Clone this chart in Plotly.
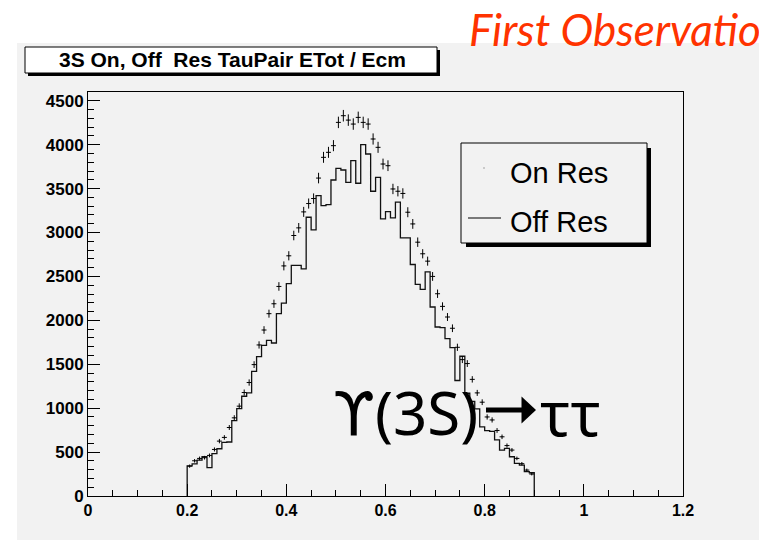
import numpy as np
import plotly.graph_objects as go

# ---------------- data ----------------
bin_start = 0.20
bin_width = 0.01
n_bins = 70

on_res = [340, 401, 428, 436, 462, 530, 625, 667, 780, 890,
          1023, 1178, 1292, 1496, 1720, 1890, 2076, 2189, 2386, 2620,
          2735, 2966, 3053, 3235, 3330, 3387, 3620, 3856, 3913, 3989,
          4254, 4330, 4280, 4235, 4311, 4254, 4235, 4065, 3970, 3780,
          3761, 3496, 3470, 3445, 3231, 3098, 2890, 2758, 2674, 2500,
          2303, 2159, 2038, 1910, 1693, 1553, 1508, 1328, 1174, 1068,
          900, 866, 746, 674, 574, 523, 428, 368, 295, 250]

off_res = [342, 366, 409, 447, 324, 482, 538, 610, 615, 858,
           996, 1136, 1174, 1420, 1587, 1716, 1773, 1742, 2076, 2197,
           2417, 2625, 2625, 2587, 3174, 3030, 3420, 3307, 3318, 3598,
           3731, 3712, 3572, 3818, 3561, 4000, 3894, 3470, 3629, 3155,
           3239, 3167, 3345, 2939, 2939, 2636, 2409, 2352, 2553, 2152,
           1924, 1917, 1792, 1689, 1315, 1591, 1170, 1076, 993, 788,
           745, 735, 640, 523, 542, 447, 371, 352, 277, 265]

x_ticks = [0, 0.2, 0.4, 0.6, 0.8, 1.0, 1.2]
x_tick_text = ["0", "0.2", "0.4", "0.6", "0.8", "1", "1.2"]
y_ticks = [0, 500, 1000, 1500, 2000, 2500, 3000, 3500, 4000, 4500]

title_text = "3S On, Off  Res TauPair ETot / Ecm"
legend_labels = ["On Res", "Off Res"]

# ---------------- derived ----------------
edges = bin_start + bin_width * np.arange(n_bins + 1)
centers = edges[:-1] + bin_width / 2
on = np.array(on_res, dtype=float)
off = np.array(off_res, dtype=float)

step_x = np.concatenate([[edges[0]], edges[:-1], [edges[-1], edges[-1]]])
step_y = np.concatenate([[0], off, [off[-1], 0]])

W, H = 759, 540
L, R, T, B = 88, 683, 92, 496


def PX(x):
    return (x - L) / (R - L)


def PY(y):
    return (B - y) / (B - T)


fig = go.Figure()

fig.add_trace(go.Scatter(
    x=step_x, y=step_y, mode="lines", line=dict(color="#111111", width=1.3, shape="hv"),
    showlegend=False, hoverinfo="skip"))

fig.add_trace(go.Scatter(
    x=centers, y=on, mode="markers",
    marker=dict(size=1, color="black"),
    error_y=dict(type="data", array=np.sqrt(on), color="black", thickness=1, width=0),
    error_x=dict(type="constant", value=bin_width / 2, color="black", thickness=1, width=0),
    showlegend=False, hoverinfo="skip"))

shapes = []
# grey canvas
shapes.append(dict(type="rect", xref="paper", yref="paper",
                   x0=PX(17), x1=PX(W + 5), y0=PY(H + 5), y1=PY(43),
                   fillcolor="#f2f2f2", line=dict(width=0), layer="below"))
# title box shadow + box
shapes.append(dict(type="rect", xref="paper", yref="paper",
                   x0=PX(28), x1=PX(440), y0=PY(76), y1=PY(50),
                   fillcolor="black", line=dict(width=0), layer="above"))
shapes.append(dict(type="rect", xref="paper", yref="paper",
                   x0=PX(25), x1=PX(437), y0=PY(73), y1=PY(47),
                   fillcolor="white", line=dict(color="black", width=1), layer="above"))
# legend shadow + box
shapes.append(dict(type="rect", xref="paper", yref="paper",
                   x0=PX(466), x1=PX(651), y0=PY(247), y1=PY(148),
                   fillcolor="black", line=dict(width=0), layer="above"))
shapes.append(dict(type="rect", xref="paper", yref="paper",
                   x0=PX(461), x1=PX(647), y0=PY(243), y1=PY(143),
                   fillcolor="#f2f2f2", line=dict(color="black", width=1), layer="above"))
# legend line sample for Off Res
shapes.append(dict(type="line", xref="paper", yref="paper",
                   x0=PX(468), x1=PX(501), y0=PY(218), y1=PY(218),
                   line=dict(color="black", width=1), layer="above"))
# legend tiny marker for On Res
shapes.append(dict(type="rect", xref="paper", yref="paper",
                   x0=PX(483.5), x1=PX(484.5), y0=PY(168.5), y1=PY(167.5),
                   fillcolor="#555555", line=dict(width=0), layer="above"))
# big arrow (shaft + head)
ax0, ax1, ay = 486, 523, 410
shapes.append(dict(type="path", xref="paper", yref="paper",
                   path=(f"M {PX(ax0)},{PY(ay-2.6)} L {PX(ax1)},{PY(ay-2.6)} L {PX(ax1)},{PY(ay+2.6)} "
                         f"L {PX(ax0)},{PY(ay+2.6)} Z"),
                   fillcolor="black", line=dict(width=0), layer="above"))
shapes.append(dict(type="path", xref="paper", yref="paper",
                   path=(f"M {PX(521.5)},{PY(396.5)} L {PX(536)},{PY(410)} L {PX(521.5)},{PY(423.5)} Z"),
                   fillcolor="black", line=dict(width=0), layer="above"))

annotations = [
    dict(text=title_text, xref="paper", yref="paper", x=PX(232), y=PY(60),
         xanchor="center", yanchor="middle", showarrow=False,
         font=dict(family="Liberation Sans, Arial", size=21, color="black", weight="bold")),
    dict(text="<i>First Observation</i>", xref="paper", yref="paper", x=PX(467), y=PY(29),
         xanchor="left", yanchor="middle", showarrow=False,
         font=dict(family="Lato, Open Sans", size=44, color="#ff3300")),
    dict(text=legend_labels[0], xref="paper", yref="paper", x=PX(508), y=PY(173),
         xanchor="left", yanchor="middle", showarrow=False,
         font=dict(family="Liberation Sans, Arial", size=29, color="black")),
    dict(text=legend_labels[1], xref="paper", yref="paper", x=PX(508), y=PY(222),
         xanchor="left", yanchor="middle", showarrow=False,
         font=dict(family="Liberation Sans, Arial", size=29, color="black")),
    dict(text="<span style=\"font-family:'DejaVu Sans'\">\u03d2</span>(3S)", xref="paper", yref="paper",
         x=PX(331), y=PY(412),
         xanchor="left", yanchor="middle", showarrow=False,
         font=dict(family="Noto Sans, DejaVu Sans", size=60, color="black")),
    dict(text="\u03c4\u03c4", xref="paper", yref="paper", x=PX(538), y=PY(412),
         xanchor="left", yanchor="middle", showarrow=False,
         font=dict(family="Noto Sans, DejaVu Sans", size=62, color="black")),
]

tickfont = dict(family="Liberation Sans, Arial", size=16, color="black", weight="bold")
ytickfont = dict(family="Liberation Sans, Arial", size=17, color="black", weight="bold")

fig.update_layout(
    width=W, height=H,
    margin=dict(l=L, r=W - R, t=T, b=H - B, pad=0),
    paper_bgcolor="white", plot_bgcolor="rgba(0,0,0,0)",
    shapes=shapes, annotations=annotations, showlegend=False,
    xaxis=dict(range=[0, 1.2], tickvals=x_ticks, ticktext=x_tick_text,
               ticks="inside", ticklen=12, tickwidth=1, tickcolor="black",
               minor=dict(dtick=0.05, ticks="inside", ticklen=6, tickcolor="black", tickwidth=1),
               showgrid=False, zeroline=False, showline=True, linecolor="black", linewidth=1,
               mirror=True, tickfont=tickfont, fixedrange=True),
    yaxis=dict(range=[0, 4600], tickvals=y_ticks,
               ticks="inside", ticklen=12, tickwidth=1, tickcolor="black",
               minor=dict(dtick=100, ticks="inside", ticklen=6, tickcolor="black", tickwidth=1),
               showgrid=False, zeroline=False, showline=True, linecolor="black", linewidth=1,
               mirror=True, tickfont=ytickfont, fixedrange=True),
)

fig.write_html("out.html")
